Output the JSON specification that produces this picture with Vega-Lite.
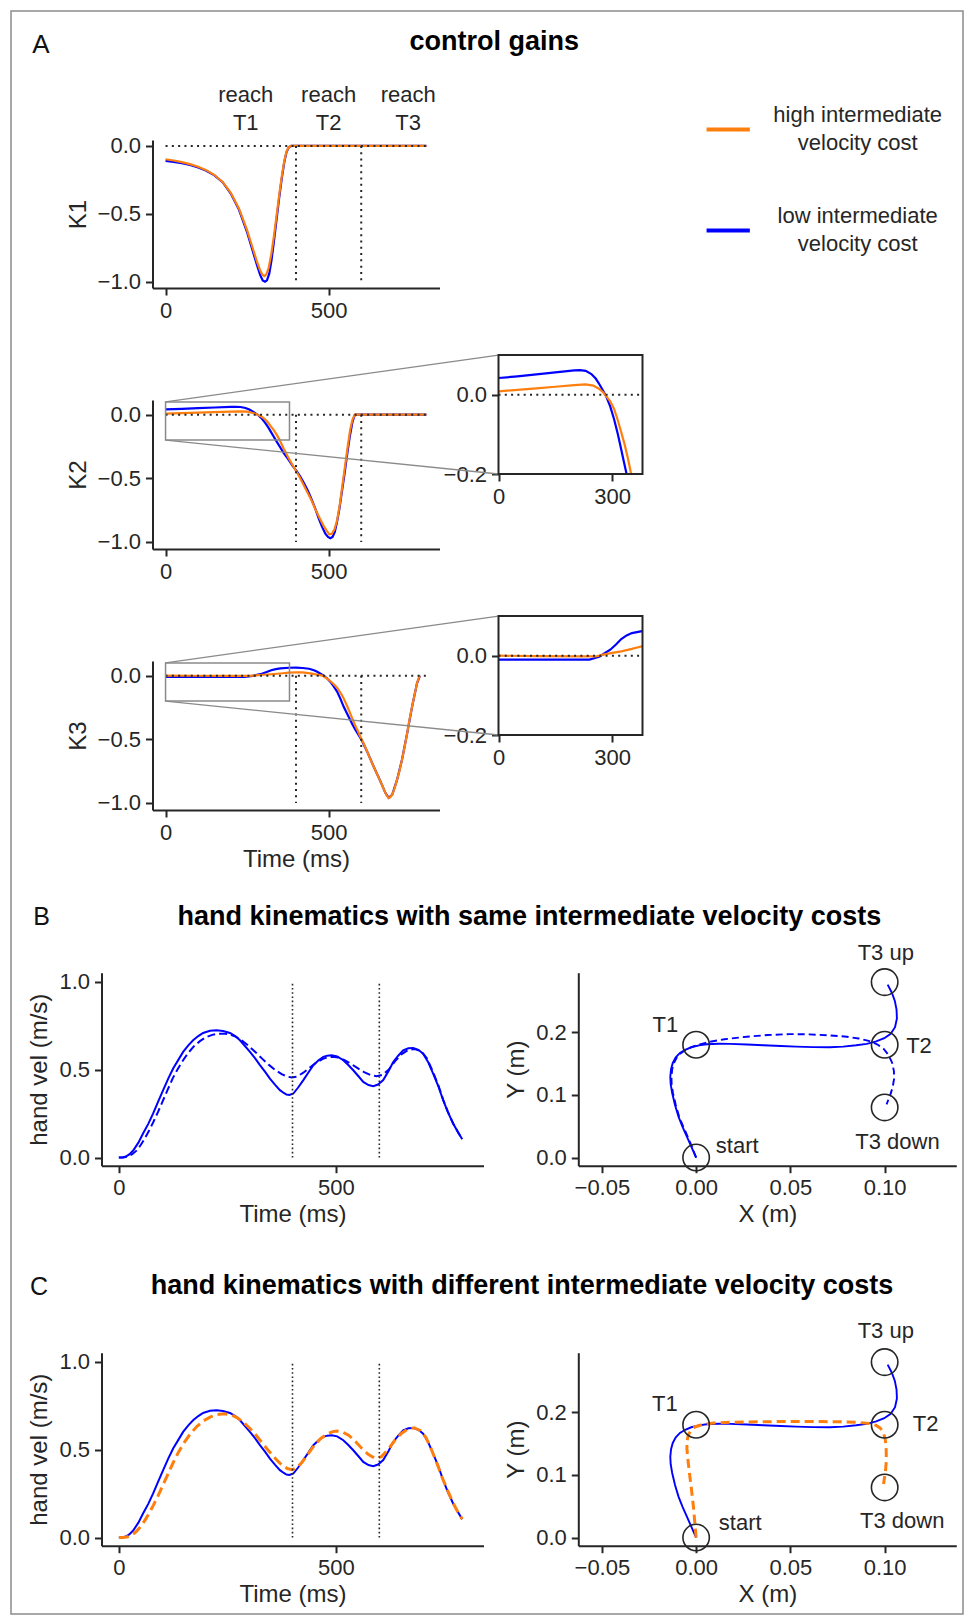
{
  "$schema": "https://vega.github.io/schema/vega-lite/v6.json",
  "autosize": "none",
  "width": 952,
  "height": 1603,
  "padding": {"left": 11, "top": 11, "right": 2, "bottom": 2},
  "background": "white",
  "view": {"stroke": "#8c8c8c", "strokeWidth": 1.5},
  "config": {
    "font": "Liberation Sans",
    "axis": {"grid": false, "domainColor": "#262626", "domainWidth": 2, "tickColor": "#262626", "tickWidth": 2, "tickSize": 7, "labelFont": "Liberation Sans", "labelFontSize": 22, "labelColor": "#262626", "labelPadding": 5, "labelFlush": false, "labelOverlap": false, "titleFont": "Liberation Sans", "titleFontSize": 24, "titleFontWeight": "normal", "titleColor": "#262626", "titlePadding": 7},
    "axisX": {"titlePadding": 4},
    "legend": {"labelFont": "Liberation Sans", "labelFontSize": 22, "labelColor": "#262626", "padding": 0},
    "style": {"guide-label": {"lineHeight": 28}}
  },
  "datasets": {
    "gains": [
      {"panel":"K1","cost":"high","t":0,"k":-0.098},{"panel":"K1","cost":"high","t":25,"k":-0.107},{"panel":"K1","cost":"high","t":50,"k":-0.119},{"panel":"K1","cost":"high","t":75,"k":-0.134},{"panel":"K1","cost":"high","t":100,"k":-0.153},{"panel":"K1","cost":"high","t":125,"k":-0.178},{"panel":"K1","cost":"high","t":150,"k":-0.214},{"panel":"K1","cost":"high","t":175,"k":-0.265},{"panel":"K1","cost":"high","t":200,"k":-0.345},{"panel":"K1","cost":"high","t":225,"k":-0.46},{"panel":"K1","cost":"high","t":250,"k":-0.62},{"panel":"K1","cost":"high","t":265,"k":-0.735},{"panel":"K1","cost":"high","t":280,"k":-0.85},{"panel":"K1","cost":"high","t":290,"k":-0.915},{"panel":"K1","cost":"high","t":297,"k":-0.948},{"panel":"K1","cost":"high","t":303,"k":-0.958},{"panel":"K1","cost":"high","t":309,"k":-0.945},{"panel":"K1","cost":"high","t":316,"k":-0.9},{"panel":"K1","cost":"high","t":324,"k":-0.8},{"panel":"K1","cost":"high","t":332,"k":-0.67},{"panel":"K1","cost":"high","t":340,"k":-0.52},{"panel":"K1","cost":"high","t":348,"k":-0.37},{"panel":"K1","cost":"high","t":356,"k":-0.23},{"panel":"K1","cost":"high","t":364,"k":-0.11},{"panel":"K1","cost":"high","t":371,"k":-0.04},{"panel":"K1","cost":"high","t":378,"k":-0.008},{"panel":"K1","cost":"high","t":385,"k":0},{"panel":"K1","cost":"high","t":400,"k":0},{"panel":"K1","cost":"high","t":500,"k":0},{"panel":"K1","cost":"high","t":600,"k":0},{"panel":"K1","cost":"high","t":700,"k":0},{"panel":"K1","cost":"high","t":800,"k":0},
      {"panel":"K1","cost":"low","t":0,"k":-0.11},{"panel":"K1","cost":"low","t":25,"k":-0.117},{"panel":"K1","cost":"low","t":50,"k":-0.127},{"panel":"K1","cost":"low","t":75,"k":-0.14},{"panel":"K1","cost":"low","t":100,"k":-0.158},{"panel":"K1","cost":"low","t":125,"k":-0.182},{"panel":"K1","cost":"low","t":150,"k":-0.216},{"panel":"K1","cost":"low","t":175,"k":-0.267},{"panel":"K1","cost":"low","t":200,"k":-0.35},{"panel":"K1","cost":"low","t":225,"k":-0.468},{"panel":"K1","cost":"low","t":250,"k":-0.635},{"panel":"K1","cost":"low","t":265,"k":-0.755},{"panel":"K1","cost":"low","t":280,"k":-0.875},{"panel":"K1","cost":"low","t":290,"k":-0.95},{"panel":"K1","cost":"low","t":298,"k":-0.99},{"panel":"K1","cost":"low","t":305,"k":-1.0},{"panel":"K1","cost":"low","t":311,"k":-0.99},{"panel":"K1","cost":"low","t":318,"k":-0.94},{"panel":"K1","cost":"low","t":325,"k":-0.84},{"panel":"K1","cost":"low","t":332,"k":-0.71},{"panel":"K1","cost":"low","t":340,"k":-0.55},{"panel":"K1","cost":"low","t":348,"k":-0.39},{"panel":"K1","cost":"low","t":356,"k":-0.245},{"panel":"K1","cost":"low","t":364,"k":-0.12},{"panel":"K1","cost":"low","t":371,"k":-0.045},{"panel":"K1","cost":"low","t":378,"k":-0.01},{"panel":"K1","cost":"low","t":385,"k":0},{"panel":"K1","cost":"low","t":400,"k":0},{"panel":"K1","cost":"low","t":500,"k":0},{"panel":"K1","cost":"low","t":600,"k":0},{"panel":"K1","cost":"low","t":700,"k":0},{"panel":"K1","cost":"low","t":800,"k":0},
      {"panel":"K2","cost":"high","t":0,"k":0.0085},{"panel":"K2","cost":"high","t":50,"k":0.012},{"panel":"K2","cost":"high","t":100,"k":0.016},{"panel":"K2","cost":"high","t":150,"k":0.02},{"panel":"K2","cost":"high","t":200,"k":0.024},{"panel":"K2","cost":"high","t":230,"k":0.026},{"panel":"K2","cost":"high","t":250,"k":0.023},{"panel":"K2","cost":"high","t":265,"k":0.015},{"panel":"K2","cost":"high","t":276,"k":0.006},{"panel":"K2","cost":"high","t":285,"k":-0.005},{"panel":"K2","cost":"high","t":295,"k":-0.017},{"panel":"K2","cost":"high","t":305,"k":-0.036},{"panel":"K2","cost":"high","t":314,"k":-0.062},{"panel":"K2","cost":"high","t":323,"k":-0.092},{"panel":"K2","cost":"high","t":333,"k":-0.126},{"panel":"K2","cost":"high","t":342,"k":-0.163},{"panel":"K2","cost":"high","t":350,"k":-0.2},{"panel":"K2","cost":"high","t":362,"k":-0.265},{"panel":"K2","cost":"high","t":376,"k":-0.335},{"panel":"K2","cost":"high","t":388,"k":-0.39},{"panel":"K2","cost":"high","t":401,"k":-0.446},{"panel":"K2","cost":"high","t":413,"k":-0.5},{"panel":"K2","cost":"high","t":425,"k":-0.56},{"panel":"K2","cost":"high","t":436,"k":-0.615},{"panel":"K2","cost":"high","t":447,"k":-0.67},{"panel":"K2","cost":"high","t":458,"k":-0.735},{"panel":"K2","cost":"high","t":472,"k":-0.81},{"panel":"K2","cost":"high","t":486,"k":-0.88},{"panel":"K2","cost":"high","t":495,"k":-0.915},{"panel":"K2","cost":"high","t":502,"k":-0.94},{"panel":"K2","cost":"high","t":510,"k":-0.935},{"panel":"K2","cost":"high","t":518,"k":-0.9},{"panel":"K2","cost":"high","t":526,"k":-0.83},{"panel":"K2","cost":"high","t":534,"k":-0.71},{"panel":"K2","cost":"high","t":542,"k":-0.56},{"panel":"K2","cost":"high","t":550,"k":-0.41},{"panel":"K2","cost":"high","t":558,"k":-0.26},{"panel":"K2","cost":"high","t":566,"k":-0.12},{"panel":"K2","cost":"high","t":573,"k":-0.04},{"panel":"K2","cost":"high","t":580,"k":0},{"panel":"K2","cost":"high","t":600,"k":0},{"panel":"K2","cost":"high","t":700,"k":0},{"panel":"K2","cost":"high","t":800,"k":0},
      {"panel":"K2","cost":"low","t":0,"k":0.042},{"panel":"K2","cost":"low","t":50,"k":0.046},{"panel":"K2","cost":"low","t":100,"k":0.051},{"panel":"K2","cost":"low","t":150,"k":0.056},{"panel":"K2","cost":"low","t":200,"k":0.061},{"panel":"K2","cost":"low","t":215,"k":0.062},{"panel":"K2","cost":"low","t":230,"k":0.06},{"panel":"K2","cost":"low","t":245,"k":0.052},{"panel":"K2","cost":"low","t":257,"k":0.04},{"panel":"K2","cost":"low","t":267,"k":0.025},{"panel":"K2","cost":"low","t":276,"k":0.01},{"panel":"K2","cost":"low","t":285,"k":-0.006},{"panel":"K2","cost":"low","t":295,"k":-0.03},{"panel":"K2","cost":"low","t":305,"k":-0.062},{"panel":"K2","cost":"low","t":315,"k":-0.1},{"panel":"K2","cost":"low","t":324,"k":-0.139},{"panel":"K2","cost":"low","t":331,"k":-0.17},{"panel":"K2","cost":"low","t":338,"k":-0.2},{"panel":"K2","cost":"low","t":350,"k":-0.25},{"panel":"K2","cost":"low","t":362,"k":-0.3},{"panel":"K2","cost":"low","t":376,"k":-0.35},{"panel":"K2","cost":"low","t":390,"k":-0.405},{"panel":"K2","cost":"low","t":401,"k":-0.44},{"panel":"K2","cost":"low","t":414,"k":-0.49},{"panel":"K2","cost":"low","t":425,"k":-0.54},{"panel":"K2","cost":"low","t":436,"k":-0.595},{"panel":"K2","cost":"low","t":447,"k":-0.66},{"panel":"K2","cost":"low","t":458,"k":-0.73},{"panel":"K2","cost":"low","t":469,"k":-0.81},{"panel":"K2","cost":"low","t":480,"k":-0.88},{"panel":"K2","cost":"low","t":490,"k":-0.935},{"panel":"K2","cost":"low","t":498,"k":-0.96},{"panel":"K2","cost":"low","t":505,"k":-0.97},{"panel":"K2","cost":"low","t":512,"k":-0.96},{"panel":"K2","cost":"low","t":519,"k":-0.92},{"panel":"K2","cost":"low","t":526,"k":-0.84},{"panel":"K2","cost":"low","t":533,"k":-0.74},{"panel":"K2","cost":"low","t":541,"k":-0.6},{"panel":"K2","cost":"low","t":549,"k":-0.46},{"panel":"K2","cost":"low","t":557,"k":-0.31},{"panel":"K2","cost":"low","t":565,"k":-0.17},{"panel":"K2","cost":"low","t":573,"k":-0.06},{"panel":"K2","cost":"low","t":579,"k":-0.01},{"panel":"K2","cost":"low","t":584,"k":0},{"panel":"K2","cost":"low","t":600,"k":0},{"panel":"K2","cost":"low","t":700,"k":0},{"panel":"K2","cost":"low","t":800,"k":0},
      {"panel":"K3","cost":"low","t":0,"k":-0.01},{"panel":"K3","cost":"low","t":50,"k":-0.01},{"panel":"K3","cost":"low","t":100,"k":-0.01},{"panel":"K3","cost":"low","t":150,"k":-0.01},{"panel":"K3","cost":"low","t":200,"k":-0.01},{"panel":"K3","cost":"low","t":240,"k":-0.01},{"panel":"K3","cost":"low","t":255,"k":-0.006},{"panel":"K3","cost":"low","t":267,"k":-0.002},{"panel":"K3","cost":"low","t":280,"k":0.006},{"panel":"K3","cost":"low","t":295,"k":0.015},{"panel":"K3","cost":"low","t":310,"k":0.028},{"panel":"K3","cost":"low","t":324,"k":0.042},{"panel":"K3","cost":"low","t":338,"k":0.051},{"panel":"K3","cost":"low","t":352,"k":0.057},{"panel":"K3","cost":"low","t":379,"k":0.062},{"panel":"K3","cost":"low","t":400,"k":0.063},{"panel":"K3","cost":"low","t":420,"k":0.06},{"panel":"K3","cost":"low","t":440,"k":0.054},{"panel":"K3","cost":"low","t":455,"k":0.042},{"panel":"K3","cost":"low","t":465,"k":0.03},{"panel":"K3","cost":"low","t":475,"k":0.015},{"panel":"K3","cost":"low","t":485,"k":0},{"panel":"K3","cost":"low","t":495,"k":-0.02},{"panel":"K3","cost":"low","t":505,"k":-0.047},{"panel":"K3","cost":"low","t":515,"k":-0.083},{"panel":"K3","cost":"low","t":526,"k":-0.125},{"panel":"K3","cost":"low","t":536,"k":-0.18},{"panel":"K3","cost":"low","t":546,"k":-0.243},{"panel":"K3","cost":"low","t":556,"k":-0.295},{"panel":"K3","cost":"low","t":566,"k":-0.347},{"panel":"K3","cost":"low","t":574,"k":-0.387},{"panel":"K3","cost":"low","t":582,"k":-0.425},{"panel":"K3","cost":"low","t":590,"k":-0.458},{"panel":"K3","cost":"low","t":597,"k":-0.488},{"panel":"K3","cost":"low","t":605,"k":-0.525},{"panel":"K3","cost":"low","t":618,"k":-0.595},{"panel":"K3","cost":"low","t":638,"k":-0.713},{"panel":"K3","cost":"low","t":659,"k":-0.83},{"panel":"K3","cost":"low","t":674,"k":-0.92},{"panel":"K3","cost":"low","t":684,"k":-0.96},{"panel":"K3","cost":"low","t":695,"k":-0.935},{"panel":"K3","cost":"low","t":710,"k":-0.817},{"panel":"K3","cost":"low","t":725,"k":-0.66},{"panel":"K3","cost":"low","t":741,"k":-0.45},{"panel":"K3","cost":"low","t":756,"k":-0.243},{"panel":"K3","cost":"low","t":771,"k":-0.06},{"panel":"K3","cost":"low","t":780,"k":0},
      {"panel":"K3","cost":"high","t":0,"k":0},{"panel":"K3","cost":"high","t":100,"k":-0.001},{"panel":"K3","cost":"high","t":200,"k":-0.002},{"panel":"K3","cost":"high","t":257,"k":-0.002},{"panel":"K3","cost":"high","t":276,"k":0.0025},{"panel":"K3","cost":"high","t":300,"k":0.007},{"panel":"K3","cost":"high","t":324,"k":0.011},{"panel":"K3","cost":"high","t":352,"k":0.017},{"panel":"K3","cost":"high","t":379,"k":0.0236},{"panel":"K3","cost":"high","t":400,"k":0.026},{"panel":"K3","cost":"high","t":420,"k":0.025},{"panel":"K3","cost":"high","t":444,"k":0.018},{"panel":"K3","cost":"high","t":465,"k":0.008},{"panel":"K3","cost":"high","t":480,"k":0},{"panel":"K3","cost":"high","t":495,"k":-0.022},{"panel":"K3","cost":"high","t":505,"k":-0.042},{"panel":"K3","cost":"high","t":515,"k":-0.066},{"panel":"K3","cost":"high","t":526,"k":-0.094},{"panel":"K3","cost":"high","t":536,"k":-0.132},{"panel":"K3","cost":"high","t":546,"k":-0.178},{"panel":"K3","cost":"high","t":556,"k":-0.235},{"panel":"K3","cost":"high","t":566,"k":-0.295},{"panel":"K3","cost":"high","t":574,"k":-0.345},{"panel":"K3","cost":"high","t":582,"k":-0.394},{"panel":"K3","cost":"high","t":590,"k":-0.437},{"panel":"K3","cost":"high","t":597,"k":-0.478},{"panel":"K3","cost":"high","t":608,"k":-0.535},{"panel":"K3","cost":"high","t":618,"k":-0.595},{"panel":"K3","cost":"high","t":628,"k":-0.655},{"panel":"K3","cost":"high","t":638,"k":-0.713},{"panel":"K3","cost":"high","t":648,"k":-0.77},{"panel":"K3","cost":"high","t":659,"k":-0.83},{"panel":"K3","cost":"high","t":667,"k":-0.878},{"panel":"K3","cost":"high","t":674,"k":-0.92},{"panel":"K3","cost":"high","t":679,"k":-0.945},{"panel":"K3","cost":"high","t":684,"k":-0.96},{"panel":"K3","cost":"high","t":689,"k":-0.955},{"panel":"K3","cost":"high","t":695,"k":-0.935},{"panel":"K3","cost":"high","t":702,"k":-0.885},{"panel":"K3","cost":"high","t":710,"k":-0.817},{"panel":"K3","cost":"high","t":718,"k":-0.74},{"panel":"K3","cost":"high","t":725,"k":-0.66},{"panel":"K3","cost":"high","t":733,"k":-0.56},{"panel":"K3","cost":"high","t":741,"k":-0.45},{"panel":"K3","cost":"high","t":748,"k":-0.345},{"panel":"K3","cost":"high","t":756,"k":-0.243},{"panel":"K3","cost":"high","t":764,"k":-0.145},{"panel":"K3","cost":"high","t":771,"k":-0.06},{"panel":"K3","cost":"high","t":776,"k":-0.02},{"panel":"K3","cost":"high","t":780,"k":0}
    ],
    "events": [{"target": "T1", "t": 400}, {"target": "T2", "t": 600}],
    "reach": [{"label": "reach T1", "t": 246}, {"label": "reach T2", "t": 500}, {"label": "reach T3", "t": 744}],
    "velocity": [
      {"run":"ref","cost":"low","t":0,"v":0},{"run":"ref","cost":"low","t":8,"v":0.001},{"run":"ref","cost":"low","t":16,"v":0.006},{"run":"ref","cost":"low","t":24,"v":0.018},{"run":"ref","cost":"low","t":33,"v":0.04},{"run":"ref","cost":"low","t":45,"v":0.085},{"run":"ref","cost":"low","t":56,"v":0.138},{"run":"ref","cost":"low","t":68,"v":0.193},{"run":"ref","cost":"low","t":79,"v":0.251},{"run":"ref","cost":"low","t":90,"v":0.315},{"run":"ref","cost":"low","t":102,"v":0.383},{"run":"ref","cost":"low","t":114,"v":0.45},{"run":"ref","cost":"low","t":125,"v":0.506},{"run":"ref","cost":"low","t":137,"v":0.555},{"run":"ref","cost":"low","t":148,"v":0.6},{"run":"ref","cost":"low","t":160,"v":0.637},{"run":"ref","cost":"low","t":171,"v":0.666},{"run":"ref","cost":"low","t":183,"v":0.69},{"run":"ref","cost":"low","t":194,"v":0.708},{"run":"ref","cost":"low","t":210,"v":0.72},{"run":"ref","cost":"low","t":225,"v":0.723},{"run":"ref","cost":"low","t":240,"v":0.719},{"run":"ref","cost":"low","t":256,"v":0.708},{"run":"ref","cost":"low","t":268,"v":0.69},{"run":"ref","cost":"low","t":279,"v":0.666},{"run":"ref","cost":"low","t":290,"v":0.635},{"run":"ref","cost":"low","t":302,"v":0.6},{"run":"ref","cost":"low","t":314,"v":0.563},{"run":"ref","cost":"low","t":325,"v":0.525},{"run":"ref","cost":"low","t":337,"v":0.487},{"run":"ref","cost":"low","t":348,"v":0.449},{"run":"ref","cost":"low","t":360,"v":0.413},{"run":"ref","cost":"low","t":371,"v":0.383},{"run":"ref","cost":"low","t":380,"v":0.367},{"run":"ref","cost":"low","t":386,"v":0.358},{"run":"ref","cost":"low","t":393,"v":0.356},{"run":"ref","cost":"low","t":402,"v":0.364},{"run":"ref","cost":"low","t":413,"v":0.398},{"run":"ref","cost":"low","t":425,"v":0.44},{"run":"ref","cost":"low","t":437,"v":0.485},{"run":"ref","cost":"low","t":448,"v":0.525},{"run":"ref","cost":"low","t":460,"v":0.553},{"run":"ref","cost":"low","t":471,"v":0.572},{"run":"ref","cost":"low","t":480,"v":0.579},{"run":"ref","cost":"low","t":490,"v":0.581},{"run":"ref","cost":"low","t":503,"v":0.575},{"run":"ref","cost":"low","t":517,"v":0.553},{"run":"ref","cost":"low","t":528,"v":0.527},{"run":"ref","cost":"low","t":540,"v":0.496},{"run":"ref","cost":"low","t":552,"v":0.462},{"run":"ref","cost":"low","t":563,"v":0.43},{"run":"ref","cost":"low","t":575,"v":0.412},{"run":"ref","cost":"low","t":586,"v":0.406},{"run":"ref","cost":"low","t":597,"v":0.415},{"run":"ref","cost":"low","t":609,"v":0.44},{"run":"ref","cost":"low","t":621,"v":0.49},{"run":"ref","cost":"low","t":632,"v":0.543},{"run":"ref","cost":"low","t":644,"v":0.58},{"run":"ref","cost":"low","t":655,"v":0.609},{"run":"ref","cost":"low","t":667,"v":0.621},{"run":"ref","cost":"low","t":678,"v":0.623},{"run":"ref","cost":"low","t":690,"v":0.612},{"run":"ref","cost":"low","t":701,"v":0.59},{"run":"ref","cost":"low","t":712,"v":0.545},{"run":"ref","cost":"low","t":724,"v":0.477},{"run":"ref","cost":"low","t":736,"v":0.405},{"run":"ref","cost":"low","t":747,"v":0.326},{"run":"ref","cost":"low","t":758,"v":0.258},{"run":"ref","cost":"low","t":770,"v":0.194},{"run":"ref","cost":"low","t":780,"v":0.15},{"run":"ref","cost":"low","t":791,"v":0.104},
      {"run":"same","cost":"low","t":0,"v":0},{"run":"same","cost":"low","t":10,"v":0.001},{"run":"same","cost":"low","t":20,"v":0.006},{"run":"same","cost":"low","t":30,"v":0.018},{"run":"same","cost":"low","t":40,"v":0.038},{"run":"same","cost":"low","t":50,"v":0.07},{"run":"same","cost":"low","t":60,"v":0.11},{"run":"same","cost":"low","t":70,"v":0.155},{"run":"same","cost":"low","t":80,"v":0.205},{"run":"same","cost":"low","t":90,"v":0.258},{"run":"same","cost":"low","t":100,"v":0.315},{"run":"same","cost":"low","t":112,"v":0.383},{"run":"same","cost":"low","t":124,"v":0.45},{"run":"same","cost":"low","t":136,"v":0.505},{"run":"same","cost":"low","t":148,"v":0.553},{"run":"same","cost":"low","t":160,"v":0.595},{"run":"same","cost":"low","t":172,"v":0.63},{"run":"same","cost":"low","t":186,"v":0.66},{"run":"same","cost":"low","t":200,"v":0.683},{"run":"same","cost":"low","t":215,"v":0.697},{"run":"same","cost":"low","t":228,"v":0.703},{"run":"same","cost":"low","t":240,"v":0.704},{"run":"same","cost":"low","t":255,"v":0.7},{"run":"same","cost":"low","t":270,"v":0.686},{"run":"same","cost":"low","t":285,"v":0.662},{"run":"same","cost":"low","t":300,"v":0.632},{"run":"same","cost":"low","t":315,"v":0.598},{"run":"same","cost":"low","t":330,"v":0.562},{"run":"same","cost":"low","t":345,"v":0.528},{"run":"same","cost":"low","t":360,"v":0.498},{"run":"same","cost":"low","t":375,"v":0.474},{"run":"same","cost":"low","t":388,"v":0.46},{"run":"same","cost":"low","t":398,"v":0.455},{"run":"same","cost":"low","t":410,"v":0.46},{"run":"same","cost":"low","t":425,"v":0.482},{"run":"same","cost":"low","t":440,"v":0.512},{"run":"same","cost":"low","t":455,"v":0.54},{"run":"same","cost":"low","t":470,"v":0.561},{"run":"same","cost":"low","t":482,"v":0.57},{"run":"same","cost":"low","t":492,"v":0.572},{"run":"same","cost":"low","t":505,"v":0.568},{"run":"same","cost":"low","t":520,"v":0.553},{"run":"same","cost":"low","t":535,"v":0.532},{"run":"same","cost":"low","t":550,"v":0.508},{"run":"same","cost":"low","t":565,"v":0.485},{"run":"same","cost":"low","t":580,"v":0.469},{"run":"same","cost":"low","t":594,"v":0.462},{"run":"same","cost":"low","t":608,"v":0.47},{"run":"same","cost":"low","t":622,"v":0.5},{"run":"same","cost":"low","t":636,"v":0.546},{"run":"same","cost":"low","t":650,"v":0.585},{"run":"same","cost":"low","t":665,"v":0.609},{"run":"same","cost":"low","t":682,"v":0.617},{"run":"same","cost":"low","t":697,"v":0.602},{"run":"same","cost":"low","t":710,"v":0.562},{"run":"same","cost":"low","t":724,"v":0.485},{"run":"same","cost":"low","t":736,"v":0.41},{"run":"same","cost":"low","t":747,"v":0.33},{"run":"same","cost":"low","t":758,"v":0.26},{"run":"same","cost":"low","t":770,"v":0.194},{"run":"same","cost":"low","t":780,"v":0.15},{"run":"same","cost":"low","t":791,"v":0.104},
      {"run":"diff","cost":"high","t":0,"v":0},{"run":"diff","cost":"high","t":10,"v":0.001},{"run":"diff","cost":"high","t":20,"v":0.005},{"run":"diff","cost":"high","t":30,"v":0.015},{"run":"diff","cost":"high","t":40,"v":0.034},{"run":"diff","cost":"high","t":50,"v":0.062},{"run":"diff","cost":"high","t":60,"v":0.098},{"run":"diff","cost":"high","t":70,"v":0.14},{"run":"diff","cost":"high","t":80,"v":0.186},{"run":"diff","cost":"high","t":90,"v":0.236},{"run":"diff","cost":"high","t":100,"v":0.29},{"run":"diff","cost":"high","t":112,"v":0.355},{"run":"diff","cost":"high","t":125,"v":0.425},{"run":"diff","cost":"high","t":138,"v":0.488},{"run":"diff","cost":"high","t":150,"v":0.538},{"run":"diff","cost":"high","t":165,"v":0.59},{"run":"diff","cost":"high","t":180,"v":0.632},{"run":"diff","cost":"high","t":195,"v":0.663},{"run":"diff","cost":"high","t":210,"v":0.684},{"run":"diff","cost":"high","t":225,"v":0.698},{"run":"diff","cost":"high","t":242,"v":0.703},{"run":"diff","cost":"high","t":258,"v":0.697},{"run":"diff","cost":"high","t":272,"v":0.682},{"run":"diff","cost":"high","t":287,"v":0.655},{"run":"diff","cost":"high","t":302,"v":0.62},{"run":"diff","cost":"high","t":317,"v":0.578},{"run":"diff","cost":"high","t":332,"v":0.532},{"run":"diff","cost":"high","t":347,"v":0.487},{"run":"diff","cost":"high","t":362,"v":0.445},{"run":"diff","cost":"high","t":375,"v":0.413},{"run":"diff","cost":"high","t":388,"v":0.392},{"run":"diff","cost":"high","t":399,"v":0.386},{"run":"diff","cost":"high","t":410,"v":0.396},{"run":"diff","cost":"high","t":422,"v":0.428},{"run":"diff","cost":"high","t":435,"v":0.472},{"run":"diff","cost":"high","t":450,"v":0.523},{"run":"diff","cost":"high","t":465,"v":0.563},{"run":"diff","cost":"high","t":480,"v":0.589},{"run":"diff","cost":"high","t":493,"v":0.602},{"run":"diff","cost":"high","t":503,"v":0.605},{"run":"diff","cost":"high","t":515,"v":0.6},{"run":"diff","cost":"high","t":530,"v":0.58},{"run":"diff","cost":"high","t":545,"v":0.546},{"run":"diff","cost":"high","t":560,"v":0.506},{"run":"diff","cost":"high","t":575,"v":0.472},{"run":"diff","cost":"high","t":591,"v":0.449},{"run":"diff","cost":"high","t":605,"v":0.46},{"run":"diff","cost":"high","t":620,"v":0.5},{"run":"diff","cost":"high","t":635,"v":0.55},{"run":"diff","cost":"high","t":650,"v":0.59},{"run":"diff","cost":"high","t":665,"v":0.615},{"run":"diff","cost":"high","t":680,"v":0.624},{"run":"diff","cost":"high","t":695,"v":0.607},{"run":"diff","cost":"high","t":708,"v":0.566},{"run":"diff","cost":"high","t":720,"v":0.5},{"run":"diff","cost":"high","t":733,"v":0.42},{"run":"diff","cost":"high","t":745,"v":0.34},{"run":"diff","cost":"high","t":757,"v":0.27},{"run":"diff","cost":"high","t":770,"v":0.196},{"run":"diff","cost":"high","t":780,"v":0.15},{"run":"diff","cost":"high","t":791,"v":0.105}
    ],
    "path": [
      {"run":"ref","cost":"low","x":0,"y":0},{"run":"ref","cost":"low","x":-0.0025,"y":0.017},{"run":"ref","cost":"low","x":-0.0049,"y":0.0335},{"run":"ref","cost":"low","x":-0.0072,"y":0.049},{"run":"ref","cost":"low","x":-0.0093,"y":0.065},{"run":"ref","cost":"low","x":-0.0112,"y":0.084},{"run":"ref","cost":"low","x":-0.0127,"y":0.103},{"run":"ref","cost":"low","x":-0.0135,"y":0.117},{"run":"ref","cost":"low","x":-0.0137,"y":0.129},{"run":"ref","cost":"low","x":-0.0133,"y":0.141},{"run":"ref","cost":"low","x":-0.0124,"y":0.151},{"run":"ref","cost":"low","x":-0.0108,"y":0.16},{"run":"ref","cost":"low","x":-0.0086,"y":0.167},{"run":"ref","cost":"low","x":-0.0058,"y":0.172},{"run":"ref","cost":"low","x":-0.0026,"y":0.176},{"run":"ref","cost":"low","x":0.0015,"y":0.179},{"run":"ref","cost":"low","x":0.0056,"y":0.1808},{"run":"ref","cost":"low","x":0.012,"y":0.1815},{"run":"ref","cost":"low","x":0.018,"y":0.1814},{"run":"ref","cost":"low","x":0.027,"y":0.1805},{"run":"ref","cost":"low","x":0.0356,"y":0.1792},{"run":"ref","cost":"low","x":0.045,"y":0.178},{"run":"ref","cost":"low","x":0.053,"y":0.177},{"run":"ref","cost":"low","x":0.062,"y":0.1762},{"run":"ref","cost":"low","x":0.0708,"y":0.176},{"run":"ref","cost":"low","x":0.078,"y":0.177},{"run":"ref","cost":"low","x":0.0849,"y":0.1792},{"run":"ref","cost":"low","x":0.0905,"y":0.1815},{"run":"ref","cost":"low","x":0.0955,"y":0.1855},{"run":"ref","cost":"low","x":0.0998,"y":0.1905},{"run":"ref","cost":"low","x":0.1032,"y":0.1975},{"run":"ref","cost":"low","x":0.1055,"y":0.208},{"run":"ref","cost":"low","x":0.1065,"y":0.222},{"run":"ref","cost":"low","x":0.1063,"y":0.236},{"run":"ref","cost":"low","x":0.1054,"y":0.25},{"run":"ref","cost":"low","x":0.1038,"y":0.263},{"run":"ref","cost":"low","x":0.1016,"y":0.276},
      {"run":"same","cost":"low","x":0,"y":0},{"run":"same","cost":"low","x":-0.0022,"y":0.017},{"run":"same","cost":"low","x":-0.0045,"y":0.0335},{"run":"same","cost":"low","x":-0.0068,"y":0.049},{"run":"same","cost":"low","x":-0.009,"y":0.065},{"run":"same","cost":"low","x":-0.0108,"y":0.084},{"run":"same","cost":"low","x":-0.0123,"y":0.103},{"run":"same","cost":"low","x":-0.013,"y":0.117},{"run":"same","cost":"low","x":-0.0131,"y":0.129},{"run":"same","cost":"low","x":-0.0127,"y":0.141},{"run":"same","cost":"low","x":-0.0118,"y":0.151},{"run":"same","cost":"low","x":-0.0102,"y":0.16},{"run":"same","cost":"low","x":-0.0079,"y":0.167},{"run":"same","cost":"low","x":-0.005,"y":0.173},{"run":"same","cost":"low","x":-0.0014,"y":0.1775},{"run":"same","cost":"low","x":0.003,"y":0.1815},{"run":"same","cost":"low","x":0.0074,"y":0.1848},{"run":"same","cost":"low","x":0.015,"y":0.1888},{"run":"same","cost":"low","x":0.0268,"y":0.1928},{"run":"same","cost":"low","x":0.038,"y":0.1955},{"run":"same","cost":"low","x":0.0496,"y":0.197},{"run":"same","cost":"low","x":0.06,"y":0.1966},{"run":"same","cost":"low","x":0.0708,"y":0.195},{"run":"same","cost":"low","x":0.08,"y":0.1928},{"run":"same","cost":"low","x":0.0862,"y":0.19},{"run":"same","cost":"low","x":0.0915,"y":0.1862},{"run":"same","cost":"low","x":0.096,"y":0.1808},{"run":"same","cost":"low","x":0.0995,"y":0.1735},{"run":"same","cost":"low","x":0.1022,"y":0.163},{"run":"same","cost":"low","x":0.104,"y":0.151},{"run":"same","cost":"low","x":0.1049,"y":0.138},{"run":"same","cost":"low","x":0.105,"y":0.126},{"run":"same","cost":"low","x":0.1043,"y":0.113},{"run":"same","cost":"low","x":0.103,"y":0.1},{"run":"same","cost":"low","x":0.101,"y":0.085},
      {"run":"diff","cost":"high","x":0,"y":0},{"run":"diff","cost":"high","x":-0.0007,"y":0.024},{"run":"diff","cost":"high","x":-0.0014,"y":0.048},{"run":"diff","cost":"high","x":-0.0024,"y":0.075},{"run":"diff","cost":"high","x":-0.0035,"y":0.1016},{"run":"diff","cost":"high","x":-0.0043,"y":0.123},{"run":"diff","cost":"high","x":-0.0049,"y":0.142},{"run":"diff","cost":"high","x":-0.0048,"y":0.155},{"run":"diff","cost":"high","x":-0.0041,"y":0.164},{"run":"diff","cost":"high","x":-0.0027,"y":0.171},{"run":"diff","cost":"high","x":-0.0007,"y":0.1765},{"run":"diff","cost":"high","x":0.0035,"y":0.1805},{"run":"diff","cost":"high","x":0.0092,"y":0.1828},{"run":"diff","cost":"high","x":0.018,"y":0.1839},{"run":"diff","cost":"high","x":0.0269,"y":0.1845},{"run":"diff","cost":"high","x":0.04,"y":0.185},{"run":"diff","cost":"high","x":0.0535,"y":0.1854},{"run":"diff","cost":"high","x":0.067,"y":0.1851},{"run":"diff","cost":"high","x":0.08,"y":0.1845},{"run":"diff","cost":"high","x":0.087,"y":0.1835},{"run":"diff","cost":"high","x":0.0922,"y":0.1818},{"run":"diff","cost":"high","x":0.0955,"y":0.179},{"run":"diff","cost":"high","x":0.0978,"y":0.1745},{"run":"diff","cost":"high","x":0.0995,"y":0.166},{"run":"diff","cost":"high","x":0.1004,"y":0.155},{"run":"diff","cost":"high","x":0.1008,"y":0.14},{"run":"diff","cost":"high","x":0.1009,"y":0.123},{"run":"diff","cost":"high","x":0.1004,"y":0.105},{"run":"diff","cost":"high","x":0.0994,"y":0.0856}
    ],
    "targets": [
      {"target": "start", "x": 0, "y": 0},
      {"target": "T1", "x": 0, "y": 0.18},
      {"target": "T2", "x": 0.1, "y": 0.18},
      {"target": "T3 up", "x": 0.1, "y": 0.28},
      {"target": "T3 down", "x": 0.1, "y": 0.08}
    ],
    "targetLabels": [
      {"panel": "B", "text": "T3 up", "x": 0.1006, "y": 0.3264},
      {"panel": "B", "text": "T1", "x": -0.0163, "y": 0.211},
      {"panel": "B", "text": "T2", "x": 0.1182, "y": 0.178},
      {"panel": "B", "text": "start", "x": 0.0218, "y": 0.018},
      {"panel": "B", "text": "T3 down", "x": 0.1068, "y": 0.025},
      {"panel": "C", "text": "T3 up", "x": 0.1006, "y": 0.33},
      {"panel": "C", "text": "T1", "x": -0.0166, "y": 0.2127},
      {"panel": "C", "text": "T2", "x": 0.1217, "y": 0.1807},
      {"panel": "C", "text": "start", "x": 0.0234, "y": 0.0234},
      {"panel": "C", "text": "T3 down", "x": 0.1093, "y": 0.026}
    ]
  },
  "resolve": {"scale": {"x": "independent", "y": "independent"}, "axis": {"x": "independent", "y": "independent"}},
  "layer": [
    {
      "layer": [
        {"data": {"name": "gains"}, "transform": [{"filter": "datum.panel === 'K1' && datum.cost === 'low'"}],
         "mark": {"type": "line", "strokeWidth": 2.2},
         "encoding": {
           "x": {"field": "t", "type": "quantitative", "scale": {"domain": [-40, 840], "range": [141.5, 428.5], "nice": false, "zero": false}, "axis": {"orient": "bottom", "offset": -1326, "values": [0, 500], "title": null}},
           "y": {"field": "k", "type": "quantitative", "scale": {"domain": [-1.046, 0.044], "range": [277, 129], "nice": false, "zero": false}, "axis": {"orient": "left", "offset": -141.5, "values": [0, -0.5, -1], "format": ".1f", "title": "K1"}},
           "color": {"field": "cost", "type": "nominal", "scale": {"domain": ["high", "low"], "range": ["#ff7f0e", "#0000ff"]},
             "legend": {"orient": "none", "legendX": 693.2, "legendY": 94.5, "direction": "vertical", "title": null, "symbolType": "stroke", "symbolSize": 1875, "symbolStrokeWidth": 4, "labelAlign": "center", "labelBaseline": "line-bottom", "labelOffset": 105.5, "rowPadding": 51, "labelLimit": 400,
               "labelExpr": "datum.label === 'high' ? ['high intermediate', 'velocity cost'] : ['low intermediate', 'velocity cost']"}}
         }},
        {"data": {"name": "gains"}, "transform": [{"filter": "datum.panel === 'K1' && datum.cost === 'high'"}],
         "mark": {"type": "line", "strokeWidth": 2.2},
         "encoding": {"x": {"field": "t", "type": "quantitative"}, "y": {"field": "k", "type": "quantitative"}, "color": {"field": "cost", "type": "nominal", "legend": null}}},
        {"data": {"values": [{}]}, "mark": {"type": "rule", "color": "#262626", "strokeWidth": 2, "strokeDash": [2, 4.3]},
         "encoding": {"x": {"datum": 0, "type": "quantitative"}, "x2": {"datum": 800}, "y": {"datum": 0, "type": "quantitative"}}},
        {"data": {"name": "events"}, "mark": {"type": "rule", "color": "#262626", "strokeWidth": 2, "strokeDash": [2, 4.3]},
         "encoding": {"x": {"field": "t", "type": "quantitative"}, "y": {"datum": 0, "type": "quantitative"}, "y2": {"datum": -1}}},
        {"data": {"name": "reach"}, "mark": {"type": "text", "fontSize": 22, "color": "#262626", "lineBreak": " ", "lineHeight": 28, "align": "center", "baseline": "alphabetic"},
         "encoding": {"x": {"field": "t", "type": "quantitative"}, "y": {"datum": 0.326, "type": "quantitative"}, "text": {"field": "label"}}},
        {"data": {"values": [{}]}, "mark": {"type": "text", "fontSize": 26, "color": "#111111", "align": "left", "baseline": "alphabetic"},
         "encoding": {"x": {"datum": -408.6, "type": "quantitative"}, "y": {"datum": 0.6825, "type": "quantitative"}, "text": {"value": "A"}}},
        {"data": {"values": [{}]}, "mark": {"type": "text", "fontSize": 27, "fontWeight": "bold", "color": "#000000", "align": "center", "baseline": "alphabetic"},
         "encoding": {"x": {"datum": 1007.6, "type": "quantitative"}, "y": {"datum": 0.7068, "type": "quantitative"}, "text": {"value": "control gains"}}}
      ]
    },
    {
      "layer": [
        {"data": {"name": "gains"}, "transform": [{"filter": "datum.panel === 'K2' && datum.cost === 'low'"}],
         "mark": {"type": "line", "strokeWidth": 2.2},
         "encoding": {
           "x": {"field": "t", "type": "quantitative", "scale": {"domain": [-40, 840], "range": [141.5, 428.5], "nice": false, "zero": false}, "axis": {"orient": "bottom", "offset": -1065, "values": [0, 500], "title": null}},
           "y": {"field": "k", "type": "quantitative", "scale": {"domain": [-1.055, 0.115], "range": [538, 389], "nice": false, "zero": false}, "axis": {"orient": "left", "offset": -141.5, "values": [0, -0.5, -1], "format": ".1f", "title": "K2"}},
           "color": {"field": "cost", "type": "nominal", "legend": null}
         }},
        {"data": {"name": "gains"}, "transform": [{"filter": "datum.panel === 'K2' && datum.cost === 'high'"}],
         "mark": {"type": "line", "strokeWidth": 2.2},
         "encoding": {"x": {"field": "t", "type": "quantitative"}, "y": {"field": "k", "type": "quantitative"}, "color": {"field": "cost", "type": "nominal", "legend": null}}},
        {"data": {"values": [{}]}, "mark": {"type": "rule", "color": "#262626", "strokeWidth": 2, "strokeDash": [2, 4.3]},
         "encoding": {"x": {"datum": 0, "type": "quantitative"}, "x2": {"datum": 800}, "y": {"datum": 0, "type": "quantitative"}}},
        {"data": {"name": "events"}, "mark": {"type": "rule", "color": "#262626", "strokeWidth": 2, "strokeDash": [2, 4.3]},
         "encoding": {"x": {"field": "t", "type": "quantitative"}, "y": {"datum": 0, "type": "quantitative"}, "y2": {"datum": -1}}},
        {"data": {"values": [{}]}, "mark": {"type": "rect", "filled": false, "color": "#8a8a8a", "strokeWidth": 1.5},
         "encoding": {"x": {"datum": 0, "type": "quantitative"}, "x2": {"datum": 380}, "y": {"datum": 0.1, "type": "quantitative"}, "y2": {"datum": -0.2}}},
        {"data": {"values": [{}]}, "mark": {"type": "rule", "color": "#8a8a8a", "strokeWidth": 1.3},
         "encoding": {"x": {"datum": 0, "type": "quantitative"}, "x2": {"datum": 1021}, "y": {"datum": 0.1, "type": "quantitative"}, "y2": {"datum": 0.468}}},
        {"data": {"values": [{}]}, "mark": {"type": "rule", "color": "#8a8a8a", "strokeWidth": 1.3},
         "encoding": {"x": {"datum": 0, "type": "quantitative"}, "x2": {"datum": 1021}, "y": {"datum": -0.2, "type": "quantitative"}, "y2": {"datum": -0.466}}}
      ]
    },
    {
      "layer": [
        {"data": {"name": "gains"}, "transform": [{"filter": "datum.panel === 'K3' && datum.cost === 'low'"}],
         "mark": {"type": "line", "strokeWidth": 2.2},
         "encoding": {
           "x": {"field": "t", "type": "quantitative", "scale": {"domain": [-40, 840], "range": [141.5, 428.5], "nice": false, "zero": false}, "axis": {"orient": "bottom", "offset": -804, "values": [0, 500], "title": "Time (ms)"}},
           "y": {"field": "k", "type": "quantitative", "scale": {"domain": [-1.055, 0.115], "range": [799, 650], "nice": false, "zero": false}, "axis": {"orient": "left", "offset": -141.5, "values": [0, -0.5, -1], "format": ".1f", "title": "K3"}},
           "color": {"field": "cost", "type": "nominal", "legend": null}
         }},
        {"data": {"name": "gains"}, "transform": [{"filter": "datum.panel === 'K3' && datum.cost === 'high'"}],
         "mark": {"type": "line", "strokeWidth": 2.2},
         "encoding": {"x": {"field": "t", "type": "quantitative"}, "y": {"field": "k", "type": "quantitative"}, "color": {"field": "cost", "type": "nominal", "legend": null}}},
        {"data": {"values": [{}]}, "mark": {"type": "rule", "color": "#262626", "strokeWidth": 2, "strokeDash": [2, 4.3]},
         "encoding": {"x": {"datum": 0, "type": "quantitative"}, "x2": {"datum": 800}, "y": {"datum": 0, "type": "quantitative"}}},
        {"data": {"name": "events"}, "mark": {"type": "rule", "color": "#262626", "strokeWidth": 2, "strokeDash": [2, 4.3]},
         "encoding": {"x": {"field": "t", "type": "quantitative"}, "y": {"datum": 0, "type": "quantitative"}, "y2": {"datum": -1}}},
        {"data": {"values": [{}]}, "mark": {"type": "rect", "filled": false, "color": "#8a8a8a", "strokeWidth": 1.5},
         "encoding": {"x": {"datum": 0, "type": "quantitative"}, "x2": {"datum": 380}, "y": {"datum": 0.1, "type": "quantitative"}, "y2": {"datum": -0.2}}},
        {"data": {"values": [{}]}, "mark": {"type": "rule", "color": "#8a8a8a", "strokeWidth": 1.3},
         "encoding": {"x": {"datum": 0, "type": "quantitative"}, "x2": {"datum": 1021}, "y": {"datum": 0.1, "type": "quantitative"}, "y2": {"datum": 0.468}}},
        {"data": {"values": [{}]}, "mark": {"type": "rule", "color": "#8a8a8a", "strokeWidth": 1.3},
         "encoding": {"x": {"datum": 0, "type": "quantitative"}, "x2": {"datum": 1021}, "y": {"datum": -0.2, "type": "quantitative"}, "y2": {"datum": -0.466}}}
      ]
    },
    {
      "layer": [
        {"data": {"name": "gains"}, "transform": [{"filter": "datum.panel === 'K2' && datum.cost === 'low' && datum.t <= 380 && datum.k >= -0.2"}],
         "mark": {"type": "line", "strokeWidth": 2.2},
         "encoding": {
           "x": {"field": "t", "type": "quantitative", "scale": {"domain": [0, 380], "range": [487.5, 631.5], "nice": false, "zero": false}, "axis": {"orient": "bottom", "offset": -1140, "values": [0, 300], "title": null, "domain": false}},
           "y": {"field": "k", "type": "quantitative", "scale": {"domain": [-0.2, 0.1], "range": [463, 344], "nice": false, "zero": false}, "axis": {"orient": "left", "offset": -487.5, "values": [0, -0.2], "format": ".1f", "title": null, "domain": false}},
           "color": {"field": "cost", "type": "nominal", "legend": null}
         }},
        {"data": {"name": "gains"}, "transform": [{"filter": "datum.panel === 'K2' && datum.cost === 'high' && datum.t <= 380 && datum.k >= -0.2"}],
         "mark": {"type": "line", "strokeWidth": 2.2},
         "encoding": {"x": {"field": "t", "type": "quantitative"}, "y": {"field": "k", "type": "quantitative"}, "color": {"field": "cost", "type": "nominal", "legend": null}}},
        {"data": {"values": [{}]}, "mark": {"type": "rule", "color": "#262626", "strokeWidth": 2, "strokeDash": [2, 4.3]},
         "encoding": {"x": {"datum": 0, "type": "quantitative"}, "x2": {"datum": 380}, "y": {"datum": 0, "type": "quantitative"}}},
        {"data": {"values": [{}]}, "mark": {"type": "rect", "filled": false, "color": "#262626", "strokeWidth": 2},
         "encoding": {"x": {"datum": 0, "type": "quantitative"}, "x2": {"datum": 380}, "y": {"datum": -0.2, "type": "quantitative"}, "y2": {"datum": 0.1}}}
      ]
    },
    {
      "layer": [
        {"data": {"name": "gains"}, "transform": [{"filter": "datum.panel === 'K3' && datum.cost === 'low' && datum.t <= 380 && datum.k >= -0.2"}],
         "mark": {"type": "line", "strokeWidth": 2.2},
         "encoding": {
           "x": {"field": "t", "type": "quantitative", "scale": {"domain": [0, 380], "range": [487.5, 631.5], "nice": false, "zero": false}, "axis": {"orient": "bottom", "offset": -879, "values": [0, 300], "title": null, "domain": false}},
           "y": {"field": "k", "type": "quantitative", "scale": {"domain": [-0.2, 0.1], "range": [724, 605], "nice": false, "zero": false}, "axis": {"orient": "left", "offset": -487.5, "values": [0, -0.2], "format": ".1f", "title": null, "domain": false}},
           "color": {"field": "cost", "type": "nominal", "legend": null}
         }},
        {"data": {"name": "gains"}, "transform": [{"filter": "datum.panel === 'K3' && datum.cost === 'high' && datum.t <= 380 && datum.k >= -0.2"}],
         "mark": {"type": "line", "strokeWidth": 2.2},
         "encoding": {"x": {"field": "t", "type": "quantitative"}, "y": {"field": "k", "type": "quantitative"}, "color": {"field": "cost", "type": "nominal", "legend": null}}},
        {"data": {"values": [{}]}, "mark": {"type": "rule", "color": "#262626", "strokeWidth": 2, "strokeDash": [2, 4.3]},
         "encoding": {"x": {"datum": 0, "type": "quantitative"}, "x2": {"datum": 380}, "y": {"datum": 0, "type": "quantitative"}}},
        {"data": {"values": [{}]}, "mark": {"type": "rect", "filled": false, "color": "#262626", "strokeWidth": 2},
         "encoding": {"x": {"datum": 0, "type": "quantitative"}, "x2": {"datum": 380}, "y": {"datum": -0.2, "type": "quantitative"}, "y2": {"datum": 0.1}}}
      ]
    },
    {
      "layer": [
        {"data": {"name": "velocity"}, "transform": [{"filter": "datum.run === 'ref'"}],
         "mark": {"type": "line", "strokeWidth": 2},
         "encoding": {
           "x": {"field": "t", "type": "quantitative", "scale": {"domain": [-40, 840], "range": [90.5, 472.5], "nice": false, "zero": false}, "axis": {"orient": "bottom", "offset": -448.3, "values": [0, 500], "title": "Time (ms)"}},
           "y": {"field": "v", "type": "quantitative", "scale": {"domain": [-0.046, 1.05], "range": [1154.7, 961.7], "nice": false, "zero": false}, "axis": {"orient": "left", "offset": -90.5, "values": [0, 0.5, 1], "format": ".1f", "title": "hand vel (m/s)"}},
           "color": {"field": "cost", "type": "nominal", "legend": null}
         }},
        {"data": {"name": "velocity"}, "transform": [{"filter": "datum.run === 'same'"}],
         "mark": {"type": "line", "strokeWidth": 2, "strokeDash": [8, 4]},
         "encoding": {"x": {"field": "t", "type": "quantitative"}, "y": {"field": "v", "type": "quantitative"}, "color": {"field": "cost", "type": "nominal", "legend": null}}},
        {"data": {"name": "events"}, "mark": {"type": "rule", "color": "#262626", "strokeWidth": 1.6, "strokeDash": [1.6, 2.6]},
         "encoding": {"x": {"field": "t", "type": "quantitative"}, "y": {"datum": 0, "type": "quantitative"}, "y2": {"datum": 1}}},
        {"data": {"values": [{}]}, "mark": {"type": "text", "fontSize": 25, "color": "#111111", "align": "left", "baseline": "alphabetic"},
         "encoding": {"x": {"datum": -197.1, "type": "quantitative"}, "y": {"datum": 1.3209, "type": "quantitative"}, "text": {"value": "B"}}},
        {"data": {"values": [{}]}, "mark": {"type": "text", "fontSize": 27, "fontWeight": "bold", "color": "#000000", "align": "center", "baseline": "alphabetic"},
         "encoding": {"x": {"datum": 945.5, "type": "quantitative"}, "y": {"datum": 1.3209, "type": "quantitative"}, "text": {"value": "hand kinematics with same intermediate velocity costs"}}}
      ]
    },
    {
      "layer": [
        {"data": {"name": "path"}, "transform": [{"filter": "datum.run === 'ref'"}],
         "mark": {"type": "line", "strokeWidth": 1.9},
         "encoding": {
           "x": {"field": "x", "type": "quantitative", "scale": {"domain": [-0.0625, 0.138], "range": [567.3, 945.3], "nice": false, "zero": false}, "axis": {"orient": "bottom", "offset": -448.3, "values": [-0.05, 0, 0.05, 0.1], "format": ".2f", "title": "X (m)"}},
           "y": {"field": "y", "type": "quantitative", "scale": {"domain": [-0.013, 0.295], "range": [1154.7, 961.7], "nice": false, "zero": false}, "axis": {"orient": "left", "offset": -567.3, "values": [0, 0.1, 0.2], "format": ".1f", "title": "Y (m)"}},
           "order": {"value": null},
           "color": {"field": "cost", "type": "nominal", "legend": null}
         }},
        {"data": {"name": "path"}, "transform": [{"filter": "datum.run === 'same'"}],
         "mark": {"type": "line", "strokeWidth": 1.9, "strokeDash": [7, 4]},
         "encoding": {"x": {"field": "x", "type": "quantitative"}, "y": {"field": "y", "type": "quantitative"}, "order": {"value": null}, "color": {"field": "cost", "type": "nominal", "legend": null}}},
        {"data": {"name": "targets"}, "mark": {"type": "point", "shape": "circle", "filled": false, "size": 700, "color": "#262626", "strokeWidth": 1.6, "opacity": 1},
         "encoding": {"x": {"field": "x", "type": "quantitative"}, "y": {"field": "y", "type": "quantitative"}}},
        {"data": {"name": "targetLabels"}, "transform": [{"filter": "datum.panel === 'B'"}],
         "mark": {"type": "text", "fontSize": 22, "color": "#262626", "align": "center", "baseline": "middle"},
         "encoding": {"x": {"field": "x", "type": "quantitative"}, "y": {"field": "y", "type": "quantitative"}, "text": {"field": "text"}}}
      ]
    },
    {
      "layer": [
        {"data": {"name": "velocity"}, "transform": [{"filter": "datum.run === 'ref'"}],
         "mark": {"type": "line", "strokeWidth": 2},
         "encoding": {
           "x": {"field": "t", "type": "quantitative", "scale": {"domain": [-40, 840], "range": [90.5, 472.5], "nice": false, "zero": false}, "axis": {"orient": "bottom", "offset": -68.3, "values": [0, 500], "title": "Time (ms)"}},
           "y": {"field": "v", "type": "quantitative", "scale": {"domain": [-0.046, 1.05], "range": [1534.7, 1341.7], "nice": false, "zero": false}, "axis": {"orient": "left", "offset": -90.5, "values": [0, 0.5, 1], "format": ".1f", "title": "hand vel (m/s)"}},
           "color": {"field": "cost", "type": "nominal", "legend": null}
         }},
        {"data": {"name": "velocity"}, "transform": [{"filter": "datum.run === 'diff'"}],
         "mark": {"type": "line", "strokeWidth": 3, "strokeDash": [10, 5]},
         "encoding": {"x": {"field": "t", "type": "quantitative"}, "y": {"field": "v", "type": "quantitative"}, "color": {"field": "cost", "type": "nominal", "legend": null}}},
        {"data": {"name": "events"}, "mark": {"type": "rule", "color": "#262626", "strokeWidth": 1.6, "strokeDash": [1.6, 2.6]},
         "encoding": {"x": {"field": "t", "type": "quantitative"}, "y": {"datum": 0, "type": "quantitative"}, "y2": {"datum": 1}}},
        {"data": {"values": [{}]}, "mark": {"type": "text", "fontSize": 25, "color": "#111111", "align": "left", "baseline": "alphabetic"},
         "encoding": {"x": {"datum": -204.7, "type": "quantitative"}, "y": {"datum": 1.3777, "type": "quantitative"}, "text": {"value": "C"}}},
        {"data": {"values": [{}]}, "mark": {"type": "text", "fontSize": 27, "fontWeight": "bold", "color": "#000000", "align": "center", "baseline": "alphabetic"},
         "encoding": {"x": {"datum": 928.7, "type": "quantitative"}, "y": {"datum": 1.3816, "type": "quantitative"}, "text": {"value": "hand kinematics with different intermediate velocity costs"}}}
      ]
    },
    {
      "layer": [
        {"data": {"name": "path"}, "transform": [{"filter": "datum.run === 'ref'"}],
         "mark": {"type": "line", "strokeWidth": 1.9},
         "encoding": {
           "x": {"field": "x", "type": "quantitative", "scale": {"domain": [-0.0625, 0.138], "range": [567.3, 945.3], "nice": false, "zero": false}, "axis": {"orient": "bottom", "offset": -68.3, "values": [-0.05, 0, 0.05, 0.1], "format": ".2f", "title": "X (m)"}},
           "y": {"field": "y", "type": "quantitative", "scale": {"domain": [-0.013, 0.295], "range": [1534.7, 1341.7], "nice": false, "zero": false}, "axis": {"orient": "left", "offset": -567.3, "values": [0, 0.1, 0.2], "format": ".1f", "title": "Y (m)"}},
           "order": {"value": null},
           "color": {"field": "cost", "type": "nominal", "legend": null}
         }},
        {"data": {"name": "path"}, "transform": [{"filter": "datum.run === 'diff'"}],
         "mark": {"type": "line", "strokeWidth": 3, "strokeDash": [9, 5]},
         "encoding": {"x": {"field": "x", "type": "quantitative"}, "y": {"field": "y", "type": "quantitative"}, "order": {"value": null}, "color": {"field": "cost", "type": "nominal", "legend": null}}},
        {"data": {"name": "targets"}, "mark": {"type": "point", "shape": "circle", "filled": false, "size": 700, "color": "#262626", "strokeWidth": 1.6, "opacity": 1},
         "encoding": {"x": {"field": "x", "type": "quantitative"}, "y": {"field": "y", "type": "quantitative"}}},
        {"data": {"name": "targetLabels"}, "transform": [{"filter": "datum.panel === 'C'"}],
         "mark": {"type": "text", "fontSize": 22, "color": "#262626", "align": "center", "baseline": "middle"},
         "encoding": {"x": {"field": "x", "type": "quantitative"}, "y": {"field": "y", "type": "quantitative"}, "text": {"field": "text"}}}
      ]
    }
  ]
}
